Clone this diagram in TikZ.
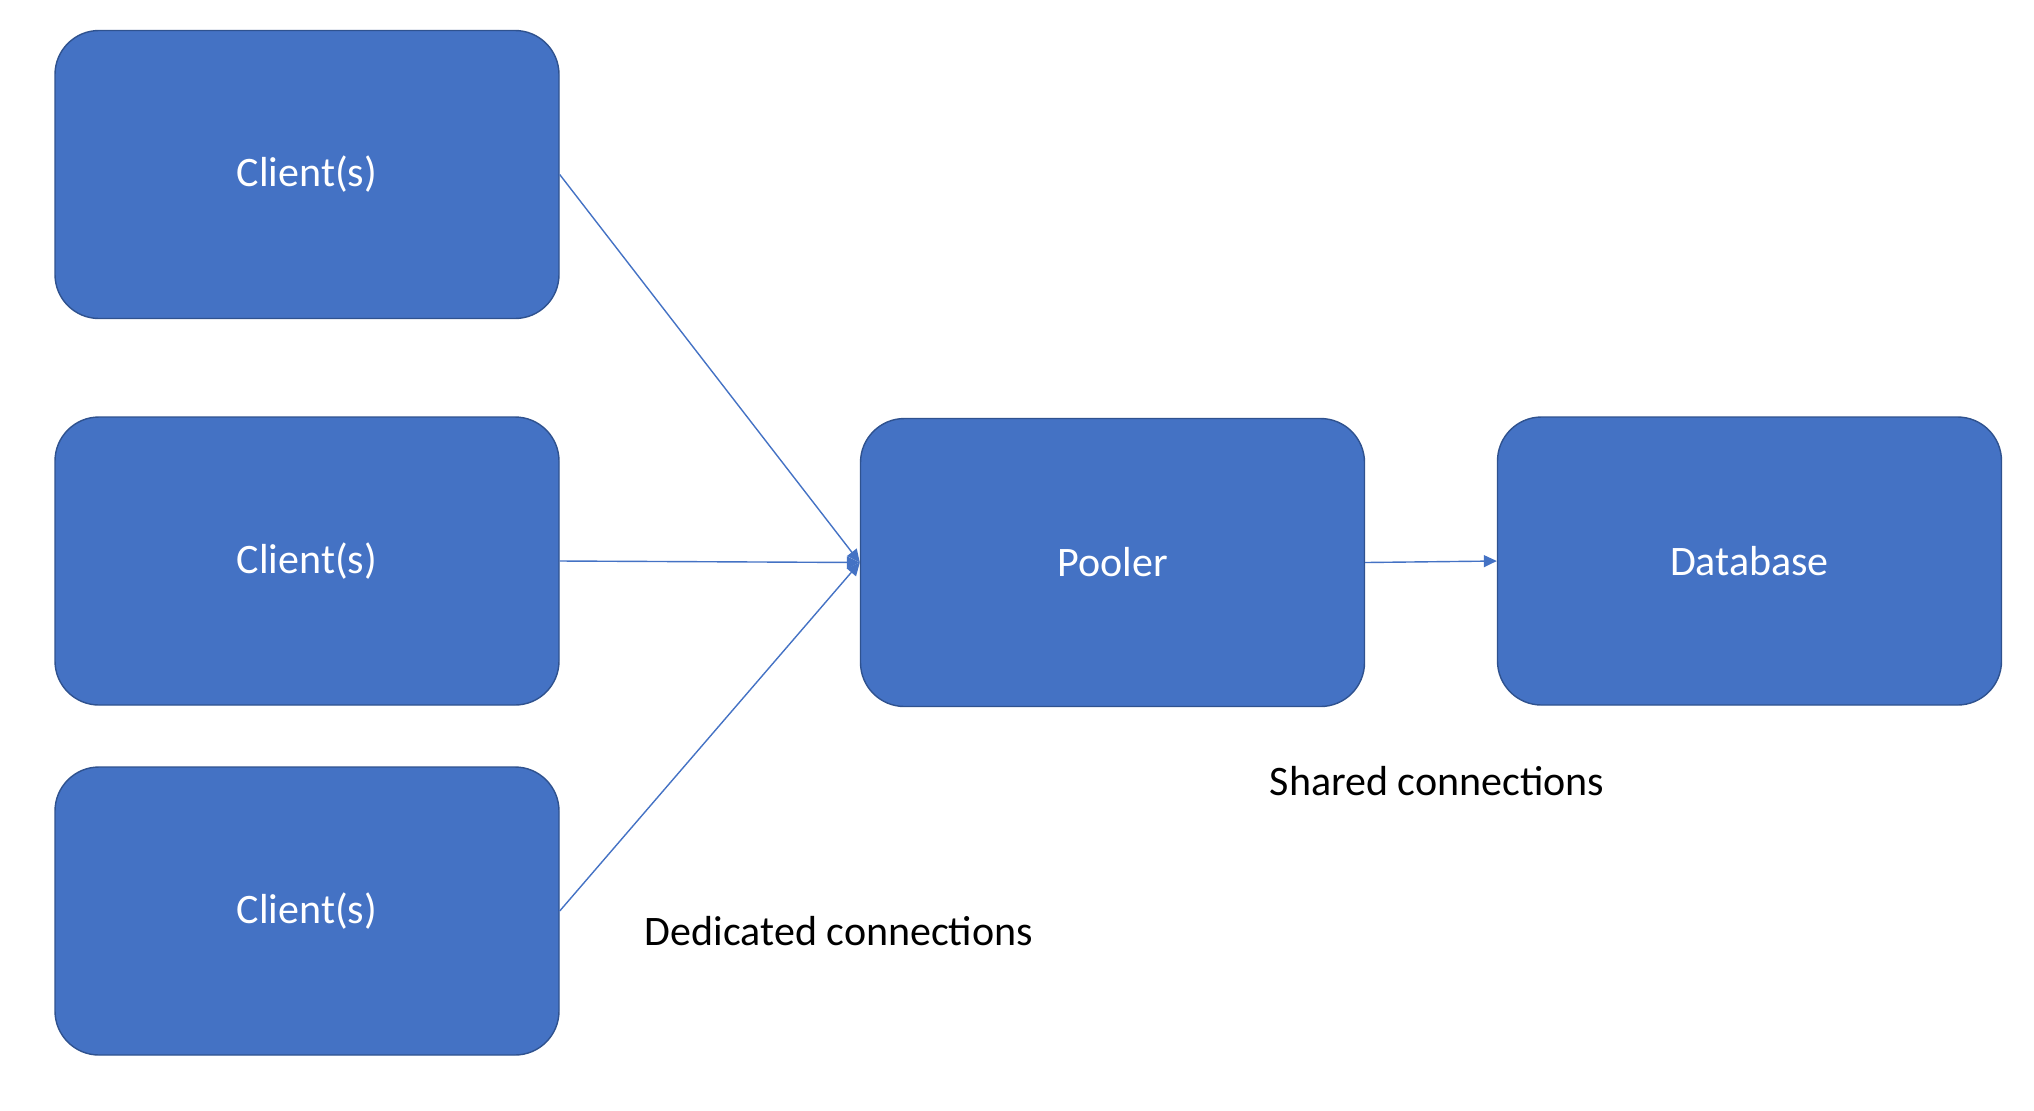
\documentclass[tikz,border=0pt]{standalone}
\usepackage{fontspec}
\setmainfont{Carlito}
\usetikzlibrary{arrows.meta}
\definecolor{boxfill}{HTML}{4472C4}
\definecolor{boxline}{HTML}{2F528F}

\begin{document}
\begin{tikzpicture}[x=0.5pt, y=-0.5pt, >={Triangle[length=6.5pt,width=6pt]},
    box/.style={draw=boxline, fill=boxfill, line width=0.7pt, rounded corners=22pt,
        minimum width=252pt, minimum height=144pt, text=white,
        font=\fontsize{21}{25}\selectfont},
    link/.style={->, draw=boxfill, line width=0.7pt},
    note/.style={font=\fontsize{21}{25}\selectfont}]
    \useasboundingbox (0,0) rectangle (2034,1110);

    % Clients on the left
    \node[box] (client1) at (307,174.5) {Client(s)};
    \node[box] (client2) at (307,561) {Client(s)};
    \node[box] (client3) at (307,911) {Client(s)};

    % Pooler and database
    \node[box] (pooler) at (1112.5,562.5) {Pooler};
    \node[box] (db) at (1749.5,561) {Database};

    % Dedicated connections from the clients to the pooler
    \draw [link] (client1.east) -- (pooler.west);
    \draw [link] (client2.east) -- (pooler.west);
    \draw [link] (client3.east) -- (pooler.west);

    % Shared connections from the pooler to the database
    \draw [link] (pooler.east) -- (db.west);

    % Labels
    \node[note] (shared) at (1437,781) {Shared connections};
    \node[note] (dedicated) at (839,931) {Dedicated connections};
\end{tikzpicture}
\end{document}
